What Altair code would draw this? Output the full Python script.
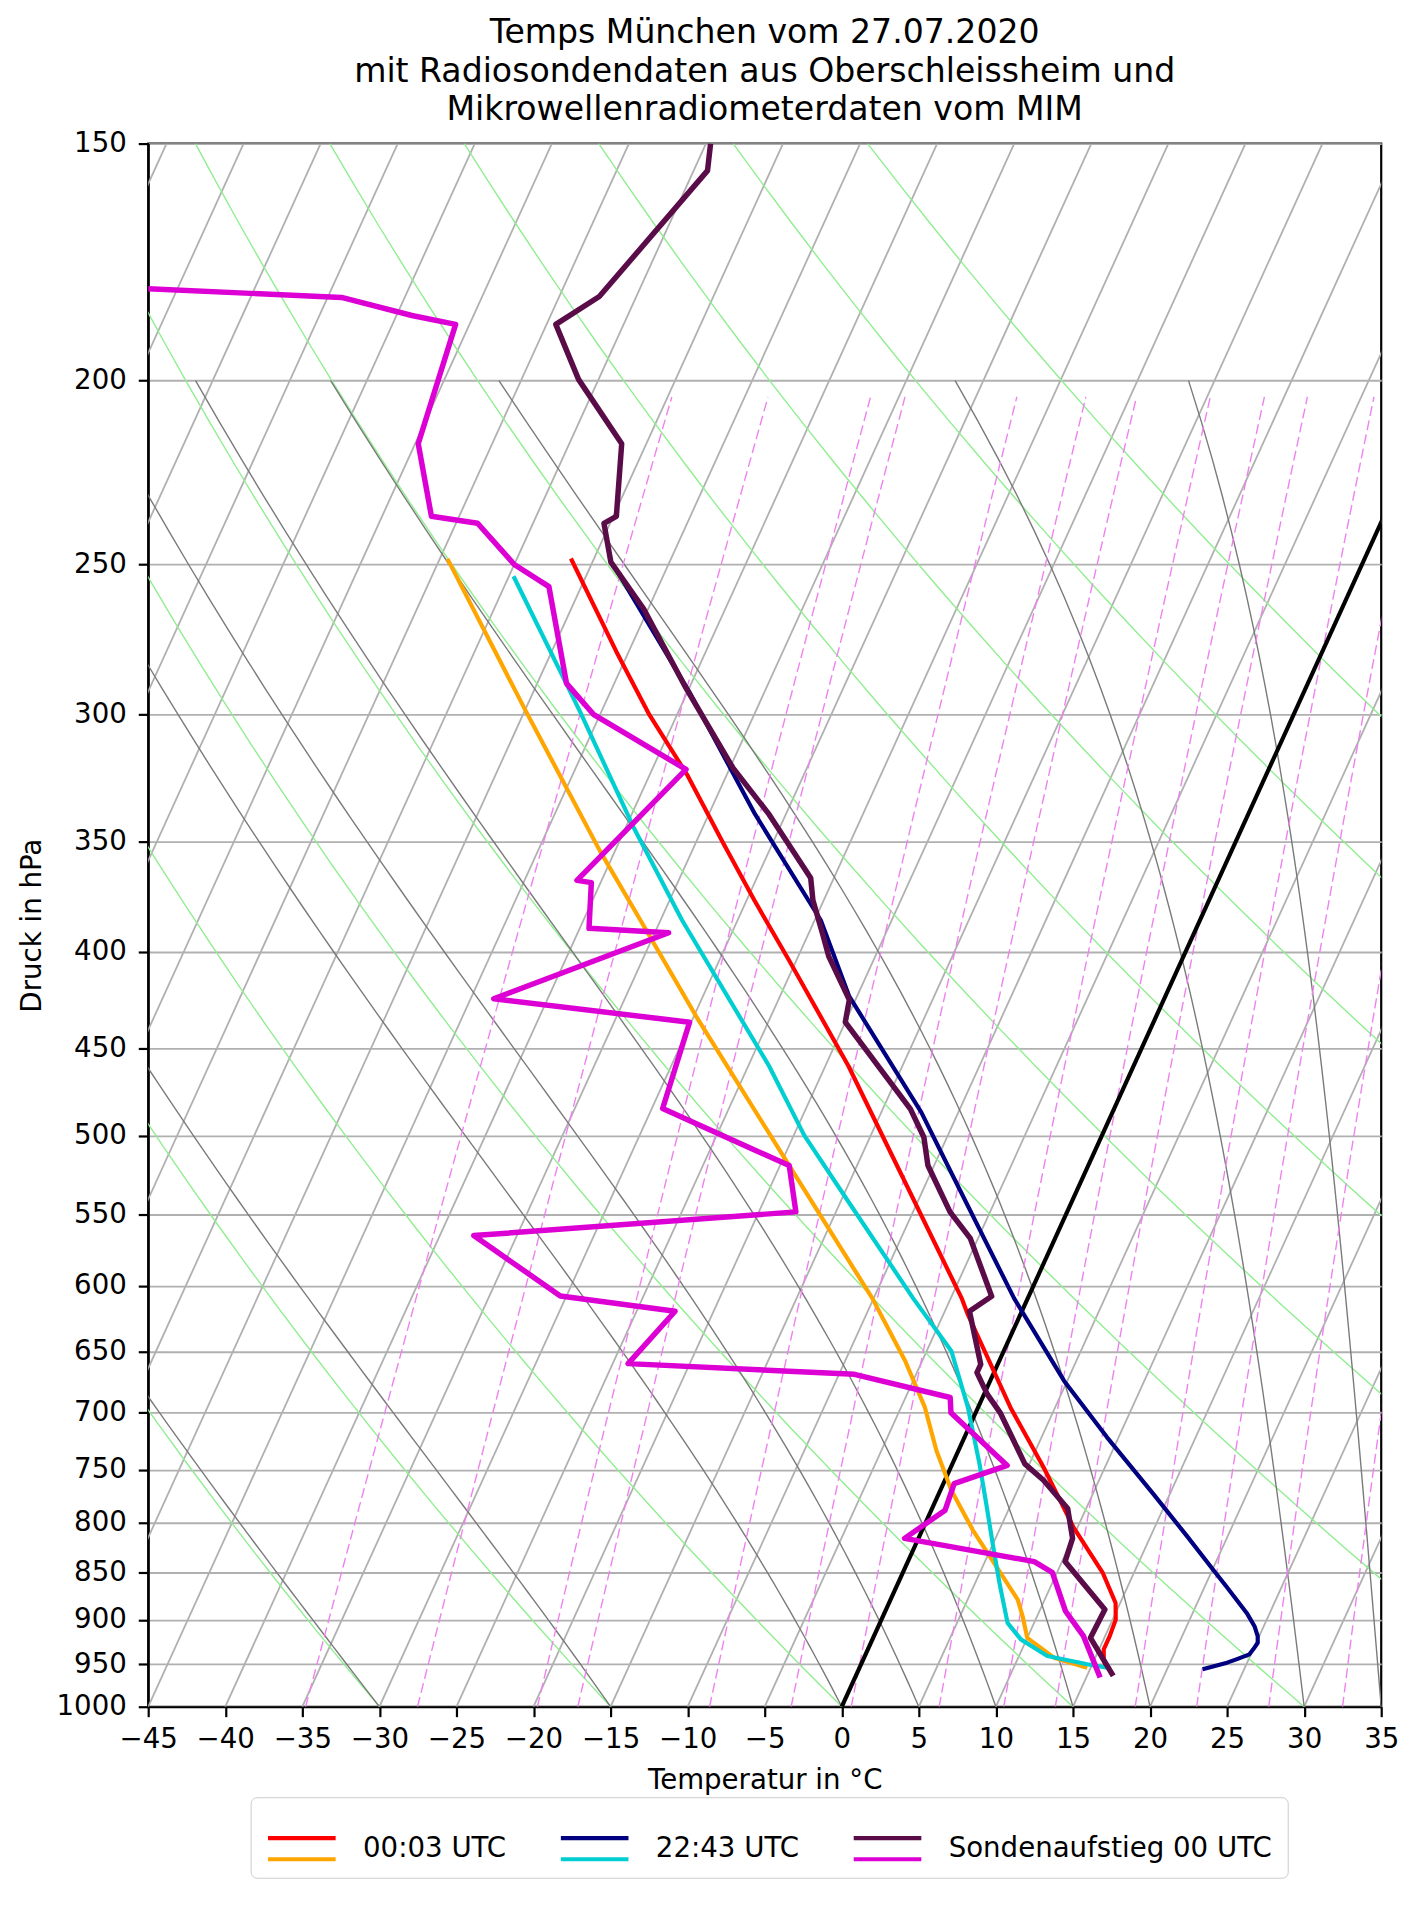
import numpy as np
import pandas as pd
import altair as alt

# ---------------- chart data ----------------
labels = ["00:03 UTC", "22:43 UTC", "Sondenaufstieg 00 UTC"]
temp_colors = ["#ff0000", "#000080", "#5a0c48"]
dew_colors = ["#ffa500", "#00ced1", "#dc00d4"]

# 00:03 UTC microwave radiometer
mwr1_T_p = [248.2, 277.9, 300.0, 322.5, 350.0, 375.8, 404.0, 459.5, 524.8, 609.0, 621.4,
            695.4, 747.6, 803.8, 850.4, 881.7, 899.6, 917.9, 932.7, 944.1, 953.7]
mwr1_T = [-51.5, -45.8, -41.8, -37.6, -33.3, -29.5, -25.5, -18.5, -11.8, -4.3, -3.4,
          2.1, 6.0, 9.7, 13.0, 14.7, 15.2, 15.3, 15.3, 15.6, 16.0]
mwr1_Td_p = [248.3, 298.8, 353.8, 385.0, 432.6, 518.5, 609.0, 657.3, 695.4, 732.8, 768.9,
             807.0, 840.2, 878.1, 896.0, 919.8, 942.2, 953.7]
mwr1_Td = [-59.5, -49.9, -41.0, -36.3, -29.85, -19.4, -10.1, -6.1, -3.45, -1.43, 0.71,
           3.28, 5.66, 8.25, 9.06, 10.0, 12.32, 14.77]

# 22:43 UTC microwave radiometer
mwr2_T_p = [250.0, 254.4, 291.7, 338.5, 385.0, 422.3, 486.1, 526.9, 609.0, 673.4, 721.1,
            772.1, 813.5, 846.9, 864.2, 892.4, 906.9, 917.9, 925.3, 932.7, 938.4, 944.1,
            947.9, 955.5]
mwr2_T = [-48.6, -47.6, -39.9, -32.0, -24.6, -20.5, -12.4, -8.3, -0.9, 4.8, 9.25,
          13.9, 17.4, 20.05, 21.4, 23.5, 24.4, 24.9, 25.1, 25.0, 24.9, 24.2,
          23.7, 22.3]
mwr2_Td_p = [253.6, 298.8, 343.9, 385.0, 459.5, 500.0, 535.4, 609.0, 649.4, 695.4, 744.7,
             781.5, 820.1, 860.7, 903.3, 921.5, 940.3, 949.8, 953.7]
mwr2_Td = [-54.7, -46.4, -39.5, -33.6, -23.65, -19.3, -15.2, -7.45, -3.4, -0.66, 1.76,
           3.37, 4.96, 6.58, 8.28, 9.63, 11.84, 14.67, 16.06]

# radiosonde 00 UTC
sonde_T_p = [150.0, 155.0, 180.6, 186.8, 199.7, 215.9, 235.8, 237.8, 249.3, 263.8, 290.5,
             320.0, 338.5, 365.8, 375.8, 391.2, 402.4, 424.0, 435.7, 484.2, 501.0, 518.5,
             548.5, 566.4, 607.7, 618.8, 660.0, 666.7, 684.3, 700.0, 744.7, 759.7, 786.2,
             815.2, 838.5, 888.8, 919.8, 963.3]
sonde_T = [-54.7, -54.1, -57.4, -59.4, -56.3, -51.6, -49.8, -50.4, -48.8, -45.3, -40.2,
           -34.8, -31.1, -26.5, -25.7, -24.1, -23.0, -20.4, -20.0, -13.2, -11.5, -10.4,
           -7.6, -5.5, -2.4, -3.4, -1.1, -1.1, 0.2, 1.6, 4.7, 6.4, 8.8,
           10.0, 10.2, 14.2, 14.1, 16.7]
sonde_Td_p = [178.9, 180.8, 184.8, 186.8, 215.9, 235.8, 237.8, 250.0, 256.8, 288.8, 300.0,
              320.6, 366.8, 367.8, 388.8, 390.9, 423.5, 435.7, 483.8, 518.5, 548.5, 564.5,
              607.4, 618.8, 659.4, 668.0, 687.1, 700.0, 746.1, 762.8, 787.8, 815.2, 838.5,
              849.7, 890.6, 917.9, 965.2]
sonde_Td = [-86.9, -74.1, -69.0, -65.9, -64.8, -61.8, -58.6, -55.0, -52.1, -48.1, -45.4,
            -37.8, -41.6, -40.6, -39.4, -34.1, -43.5, -30.1, -29.3, -19.4, -17.6, -37.8,
            -30.4, -22.5, -24.0, -9.0, -2.1, -1.6, 3.6, 0.7, 0.9, -0.9, 8.2,
            9.7, 11.7, 13.6, 15.9]

# axes / background line sets
pressure_ticks = list(range(150, 1001, 50))
temp_ticks = list(range(-45, 36, 5))
isotherm_t = list(range(-90, 36, 5))
dry_t0 = list(range(-45, 121, 15))
moist_t0 = [-30, -15, 0, 5, 10, 15, 20, 30, 35]
mixing_w = [0.2, 0.4, 0.8, 1, 2, 3, 4, 6, 8, 10, 14, 18, 24, 32]  # g/kg

P_BOTTOM, P_TOP = 1000.0, 150.0
T_MIN, T_MAX = -45, 35
SKEW = (T_MAX - T_MIN) * np.tan(np.radians(30)) / np.log(P_BOTTOM / P_TOP)

# ---------------- thermodynamic background lines ----------------
Rd, Cp, Lv, EPS = 287.04749, 1004.6662, 2.50084e6, 0.6219569
KAPPA = Rd / Cp

rows = []


def add_line(kind, lid, ps, ts):
    for i, (p, t) in enumerate(zip(ps, ts)):
        rows.append({"kind": kind, "id": f"{kind}_{lid}", "i": i, "p": float(p), "T": float(t)})


for t in isotherm_t:
    add_line("iso", t, [P_BOTTOM, P_TOP], [t, t])

p_dry = np.geomspace(P_BOTTOM, P_TOP, 40)
for t0 in dry_t0:
    add_line("dry", t0, p_dry, (t0 + 273.15) * (p_dry / 1000.0) ** KAPPA - 273.15)


def dTdp(T, p):
    es = 6.112 * np.exp(17.67 * (T - 273.15) / (T - 29.65))
    rs = EPS * es / (p - es)
    return (Rd * T + Lv * rs) / (Cp + Lv * Lv * rs * EPS / (Rd * T * T)) / p


h = -2.5
T = np.array(moist_t0, dtype=float) + 273.15
p = 1000.0
samples_p = [p]
samples_T = [T.copy()]
step = 0
while p > 200.0 + 1e-6:
    k1 = dTdp(T, p)
    k2 = dTdp(T + 0.5 * h * k1, p + 0.5 * h)
    k3 = dTdp(T + 0.5 * h * k2, p + 0.5 * h)
    k4 = dTdp(T + h * k3, p + h)
    T = T + h / 6.0 * (k1 + 2 * k2 + 2 * k3 + k4)
    p = p + h
    step += 1
    if step % 4 == 0:
        samples_p.append(p)
        samples_T.append(T.copy())
samples_T = np.array(samples_T)
for j, t0 in enumerate(moist_t0):
    add_line("moist", t0, samples_p, samples_T[:, j] - 273.15)

p_mix = np.geomspace(P_BOTTOM, 204.0, 20)
for w in mixing_w:
    wk = w / 1000.0
    e = p_mix * wk / (EPS + wk)
    lr = np.log(e / 6.112)
    add_line("mix", w, p_mix, 243.5 * lr / (17.67 - lr))

add_line("zero", 0, [P_BOTTOM, P_TOP], [0, 0])

bg_df = pd.DataFrame(rows)

prof_rows = []
series = [
    (labels[0], "T", mwr1_T_p, mwr1_T),
    (labels[0], "Td", mwr1_Td_p, mwr1_Td),
    (labels[1], "T", mwr2_T_p, mwr2_T),
    (labels[1], "Td", mwr2_Td_p, mwr2_Td),
    (labels[2], "T", sonde_T_p, sonde_T),
    (labels[2], "Td", sonde_Td_p, sonde_Td),
]
for lab, kind, ps, ts in series:
    for i, (pp, tt) in enumerate(zip(ps, ts)):
        prof_rows.append({"serie": lab, "serie_td": lab + " ", "kind": kind,
                          "i": i, "p": pp, "T": tt})
prof_df = pd.DataFrame(prof_rows)
labels_td = [lab + " " for lab in labels]

# ---------------- encodings ----------------
FONT = "DejaVu Sans"
FS = 27.8
calc = f"datum.T + {SKEW} * log({P_BOTTOM} / datum.p)"

x_scale = alt.Scale(domain=[T_MIN, T_MAX], nice=False, zero=False)
y_scale = alt.Scale(type="log", domain=[P_TOP, P_BOTTOM], reverse=True, nice=False)

x_axis = alt.Axis(values=temp_ticks, format="d", grid=False, title="Temperatur in °C",
                  labelFontSize=FS, labelFont=FONT, labelColor="black", labelPadding=9,
                  labelFlush=False, labelOverlap=False,
                  tickSize=10, tickWidth=2.2, tickColor="black",
                  domainColor="black", domainWidth=2.2,
                  titleFontSize=FS, titleFont=FONT, titleFontWeight="normal",
                  titleColor="black", titleY=82.5, titleBaseline="alphabetic")
y_axis = alt.Axis(values=pressure_ticks, format="d", grid=True, gridColor="#b0b0b0",
                  gridWidth=1.8, title="Druck in hPa",
                  labelFontSize=FS, labelFont=FONT, labelColor="black", labelPadding=12,
                  labelFlush=False, labelOverlap=False,
                  tickSize=10, tickWidth=2.2, tickColor="black",
                  domainColor="black", domainWidth=2.2,
                  titleFontSize=FS, titleFont=FONT, titleFontWeight="normal",
                  titleColor="black", titleAngle=270, titleAlign="center",
                  titleBaseline="alphabetic", titleX=-108.5, titleY=786)

X = alt.X("X:Q", scale=x_scale, axis=x_axis)
Y = alt.Y("p:Q", scale=y_scale, axis=y_axis)

bg = alt.Chart(bg_df).transform_calculate(X=calc)


def bg_layer(kind, **mark):
    return (bg.transform_filter(alt.datum.kind == kind)
            .mark_line(clip=True, **mark)
            .encode(x=X, y=Y, detail="id:N", order="i:Q"))


layers = [
    bg_layer("iso", stroke="#b0b0b0", strokeWidth=1.8),
    bg_layer("dry", stroke="#90ee90", strokeWidth=1.4),
    bg_layer("moist", stroke="#7a7a7a", strokeWidth=1.4),
    bg_layer("mix", stroke="#ee82ee", strokeWidth=1.4, strokeDash=[10, 4.5]),
    bg_layer("zero", stroke="black", strokeWidth=4.2),
]

legend_common = dict(title=None, orient="none", legendX=103, legendY=1663,
                     direction="horizontal", columns=3, symbolSize=4624,
                     symbolStrokeWidth=4.2, labelFontSize=FS, labelFont=FONT,
                     labelOffset=25, labelLimit=600, columnPadding=45.5, padding=15)
leg_t = alt.Legend(symbolType="M-1,-0.315H1", labelColor="black",
                   strokeColor="#cccccc", cornerRadius=6, zindex=1, **legend_common)
leg_td = alt.Legend(symbolType="M-1,0.315H1", labelOpacity=0, labelColor="black",
                    labelExpr="trim(datum.label)", zindex=2, **legend_common)

prof = alt.Chart(prof_df).transform_calculate(X=calc)
widths = [4.2, 4.2, 5.5]
for k, lab in enumerate(labels):
    for kind in ["T", "Td"]:
        base = (prof.transform_filter((alt.datum.serie == lab) & (alt.datum.kind == kind))
                .mark_line(clip=True, strokeWidth=widths[k], strokeJoin="round"))
        if kind == "T":
            enc = alt.Stroke("serie:N", scale=alt.Scale(domain=labels, range=temp_colors),
                             legend=leg_t)
            layers.append(base.encode(x=X, y=Y, order="i:Q", stroke=enc))
        else:
            enc = alt.Color("serie_td:N",
                            scale=alt.Scale(domain=labels_td, range=dew_colors),
                            legend=leg_td)
            layers.append(base.encode(x=X, y=Y, order="i:Q", color=enc))

title = alt.TitleParams(
    text=["Temps München vom 27.07.2020",
          "mit Radiosondendaten aus Oberschleissheim und",
          "Mikrowellenradiometerdaten vom MIM"],
    fontSize=33.3, font=FONT, fontWeight="normal", color="black",
    anchor="middle", frame="group", offset=9, dy=40, lineHeight=39, baseline="bottom")

chart = (alt.layer(*layers)
         .properties(width=1240, height=1572, title=title,
                     padding={"left": 141, "top": 131, "right": 38, "bottom": 188},
                     autosize=alt.AutoSizeParams(type="none"))
         .configure(font=FONT, background="white")
         .configure_view(stroke="black", strokeWidth=2.2))

chart.save("out.html", embed_options={"renderer": "svg", "actions": False})
